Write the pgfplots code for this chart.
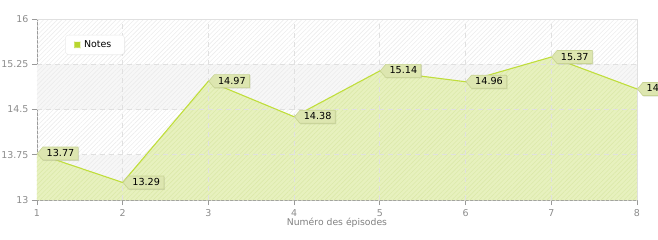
\documentclass[border=0pt]{standalone}
\usepackage{pgfplots}
\pgfplotsset{compat=1.18}
\usepackage{fontspec}
\setmainfont{DejaVu Sans}
\usetikzlibrary{patterns,patterns.meta,shapes.symbols,shadows}
\definecolor{areafill}{RGB}{231,241,190}
\definecolor{areahatch}{RGB}{220,233,170}
\definecolor{linegreen}{RGB}{192,222,60}
\definecolor{legendgreen}{RGB}{184,214,46}
\definecolor{tagfill}{RGB}{221,230,176}
\definecolor{tagdraw}{RGB}{200,212,148}
\definecolor{bandgray}{RGB}{247,247,247}
\definecolor{gridgray}{RGB}{224,224,224}
\definecolor{hatchgray}{RGB}{236,236,236}
\begin{document}
\begin{tikzpicture}
\begin{axis}[
  scale only axis,
  width=600bp, height=181bp,
  xmin=1, xmax=8, ymin=13, ymax=16,
  xtick={1,2,3,4,5,6,7,8},
  ytick={13,13.75,14.5,15.25,16},
  yticklabels={13,13.75,14.5,15.25,16},
  xticklabels={1,2,3,4,5,6,7,8},
  axis x line*=bottom, axis y line*=left,
  axis line style={-, draw=black!40, line width=0.8bp},
  tick style={draw=black!40, line width=0.8bp},
  tick align=outside, major tick length=5bp,
  ticklabel style={font=\fontsize{9.5}{10}\selectfont, text=black!45},
  xticklabel style={yshift=-1bp},
  /pgf/number format/assume math mode=true,
  xlabel={Numéro des épisodes},
  xlabel style={font=\fontsize{9.3}{10}\selectfont, text=black!50, yshift=5bp},
  clip=false,
  legend style={at={(0.047,0.912)}, anchor=north west, fill=white, draw=black!8,
    rounded corners=3bp, font=\fontsize{9.5}{10}\selectfont,
    inner xsep=9bp, inner ysep=3.5bp,
    nodes={inner xsep=4bp},
    drop shadow={shadow xshift=0.7bp, shadow yshift=-0.7bp, opacity=0.15}},
  legend cell align=left,
  legend image code/.code={\fill[legendgreen] (1bp,-2.3bp) rectangle (5.6bp,2.3bp);},
]
% background bands and hatching
\fill[bandgray] (axis cs:1,14.5) rectangle (axis cs:8,15.25);
\fill[bandgray] (axis cs:1,13) rectangle (axis cs:8,13.75);
\fill[pattern={Lines[angle=45,distance=3.2bp,line width=0.6bp]}, pattern color=hatchgray] (axis cs:1,13) rectangle (axis cs:8,16);
% area
\addplot[fill=areafill, draw=none, forget plot] coordinates {
(1,13.77) (2,13.29) (3,14.97) (4,14.38) (5,15.14) (6,14.96) (7,15.37) (8,14.84)
} \closedcycle;
\addplot[pattern={Lines[angle=45,distance=3.2bp,line width=0.6bp]}, pattern color=areahatch, draw=none, forget plot] coordinates {
(1,13.77) (2,13.29) (3,14.97) (4,14.38) (5,15.14) (6,14.96) (7,15.37) (8,14.84)
} \closedcycle;
% grid
\pgfplotsinvokeforeach{2,3,4,5,6,7}{
  \draw[gridgray, dash pattern=on 5bp off 4bp, line width=0.8bp] (axis cs:#1,13) -- (axis cs:#1,16);
}
\pgfplotsinvokeforeach{13.75,14.5,15.25}{
  \draw[gridgray, dash pattern=on 5bp off 4bp, line width=0.8bp] (axis cs:1,#1) -- (axis cs:8,#1);
}
\draw[black!12, line width=0.8bp] (axis cs:1,16) -- (axis cs:8,16) -- (axis cs:8,13);
% line with labels
\addplot[linegreen, line width=1.1bp, mark=none,
  point meta=explicit symbolic,
  nodes near coords,
  every node near coord/.append style={
    anchor=west, shape=signal, signal to=west, signal from=nowhere,
    signal pointer angle=100,
    fill=tagfill, draw=tagdraw, line width=0.6bp, text=black,
    font=\fontsize{9.7}{10}\selectfont, inner xsep=3.8bp, inner ysep=2bp,
    text height=7.5bp, text depth=1.5bp,
    drop shadow={shadow xshift=0.8bp, shadow yshift=-0.8bp, opacity=0.25}}
] coordinates {
(1,13.77) [13.77] (2,13.29) [13.29] (3,14.97) [14.97] (4,14.38) [14.38]
(5,15.14) [15.14] (6,14.96) [14.96] (7,15.37) [15.37] (8,14.84) [14.84]
};
\addlegendentry{Notes}
\coordinate (bl) at (rel axis cs:0,0);
\coordinate (tr) at (rel axis cs:1,1);
\end{axis}
\pgfresetboundingbox
\path ([shift={(-37bp,-40bp)}]bl) rectangle ([shift={(21bp,19bp)}]tr);
\end{tikzpicture}
\end{document}
